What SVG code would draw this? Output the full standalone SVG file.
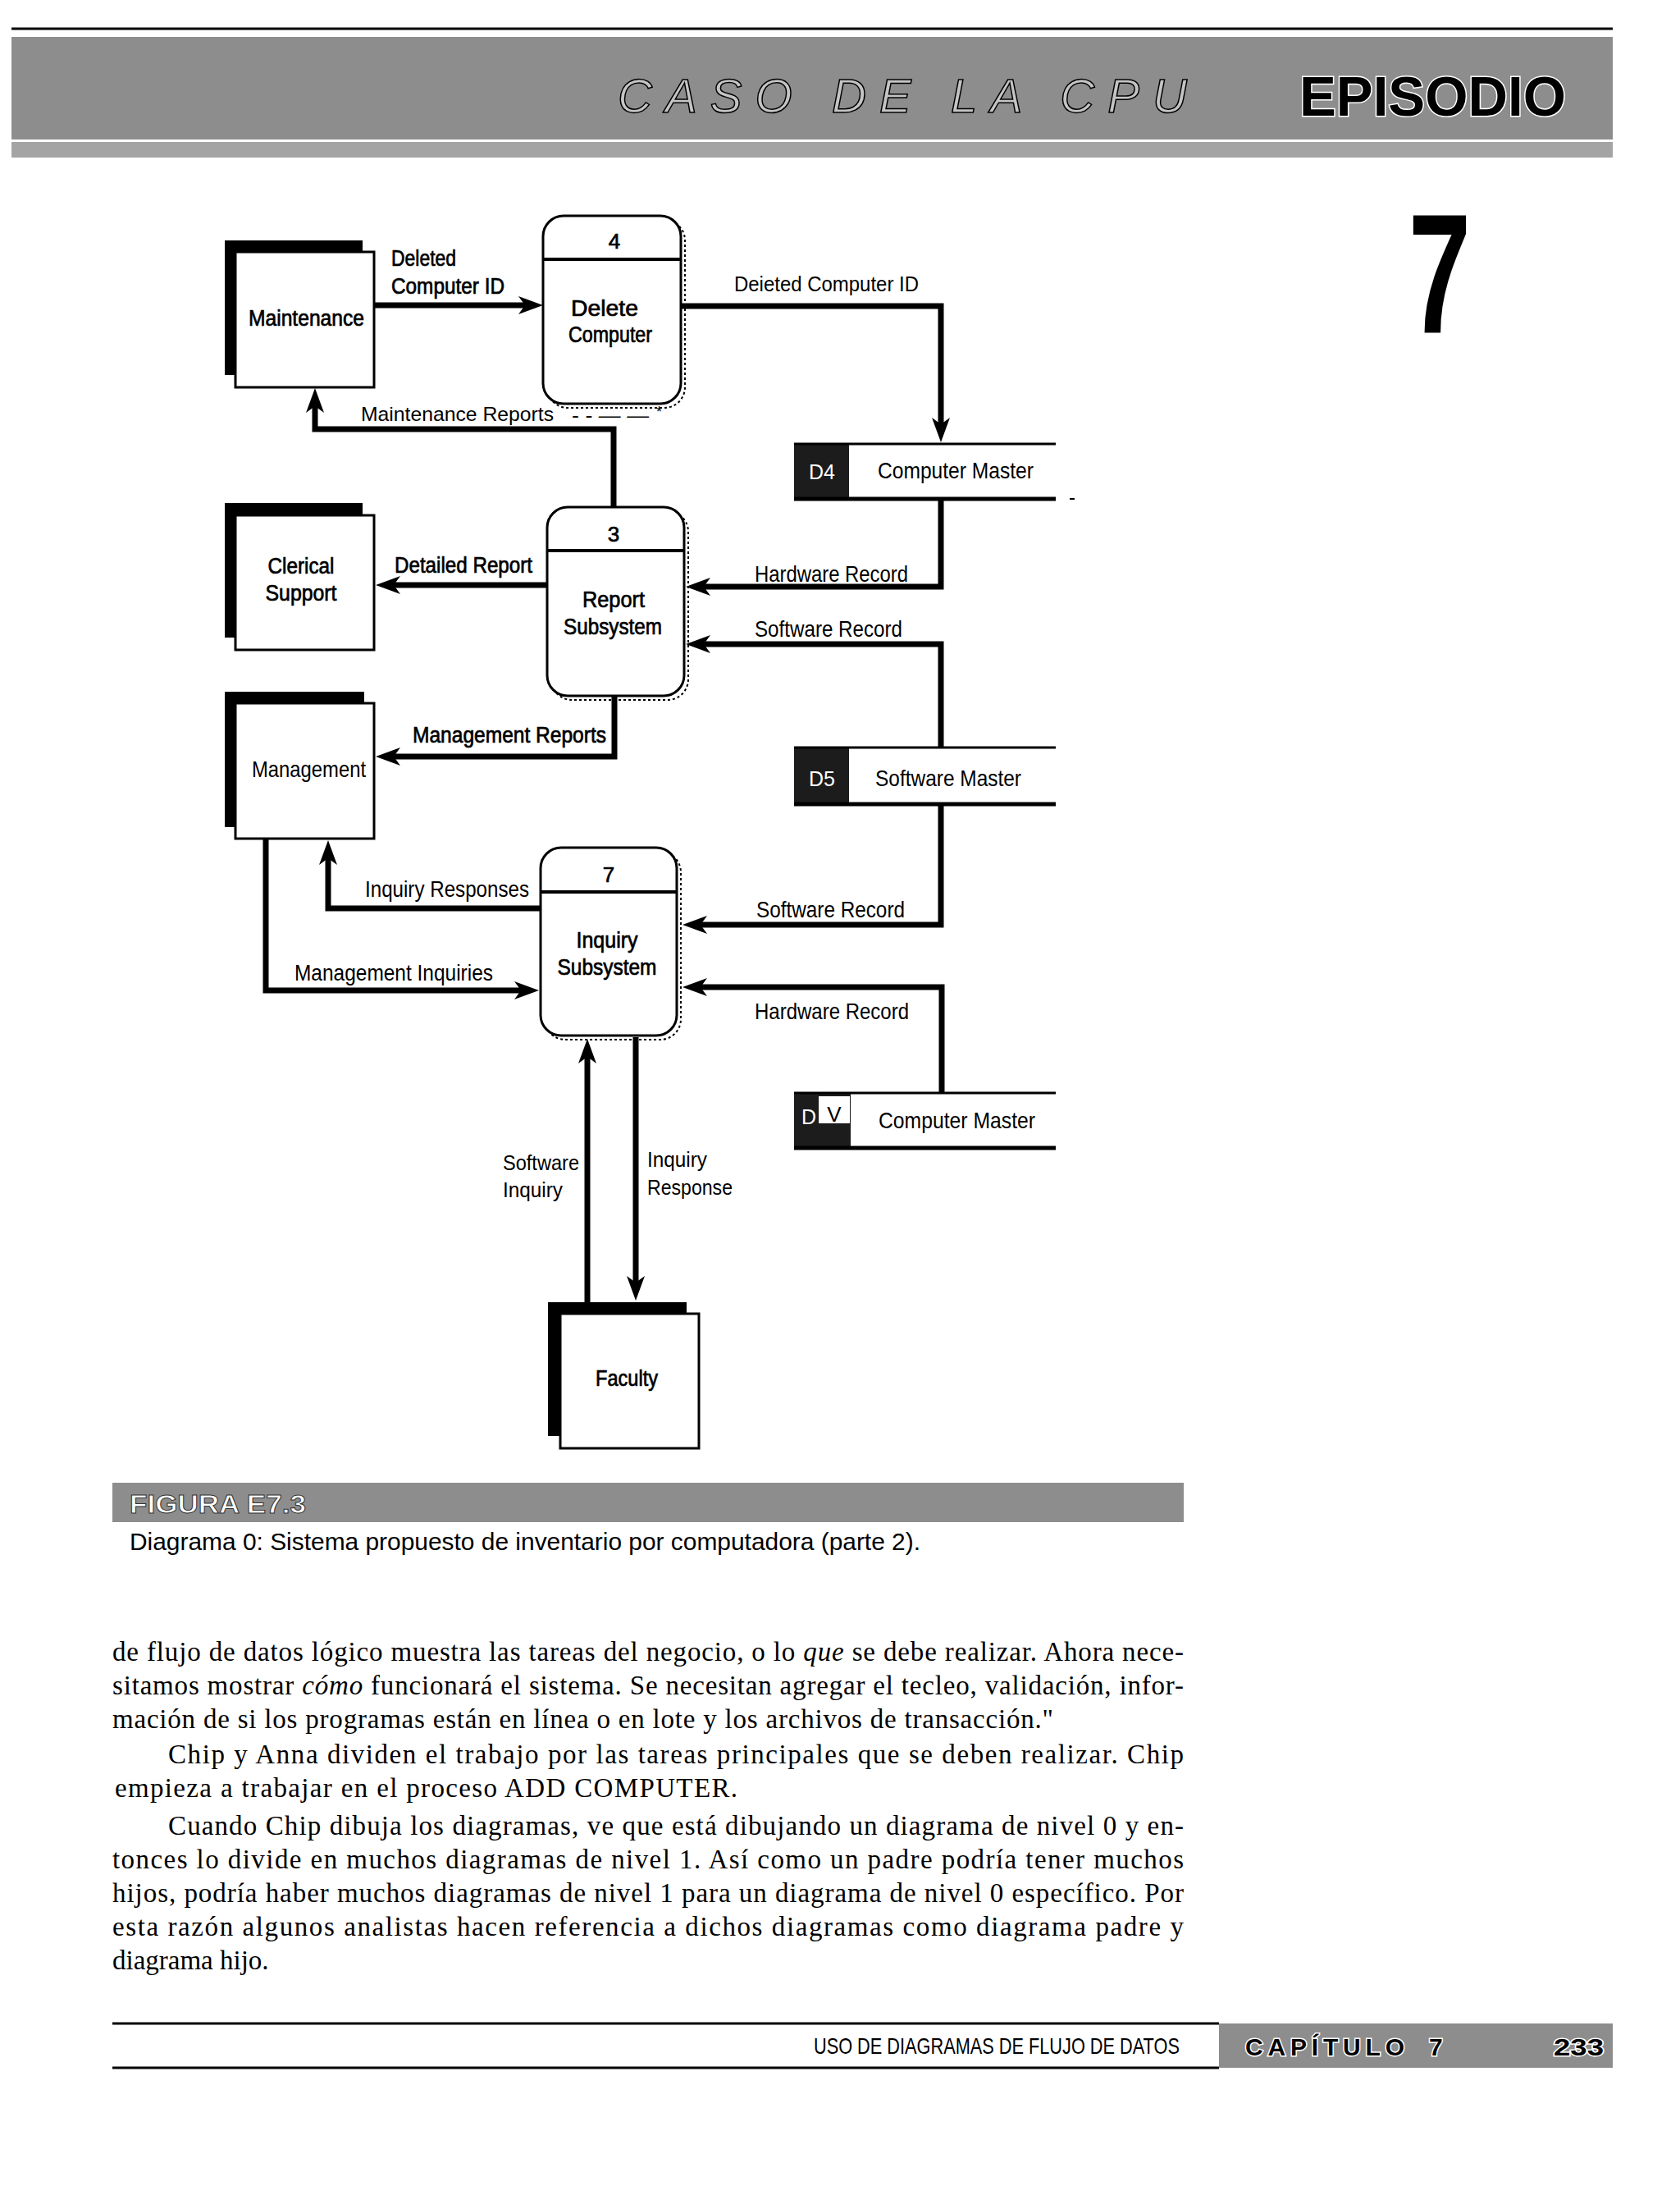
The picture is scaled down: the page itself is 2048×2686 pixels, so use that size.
<svg xmlns="http://www.w3.org/2000/svg" width="2048" height="2686" viewBox="0 0 2048 2686">
<style>
.lbl{font-family:"Liberation Sans",Arial,sans-serif;font-size:26px;fill:#000}
.hv{stroke:#000;stroke-width:0.7}
.c{text-anchor:middle}
.ent{fill:#fff;stroke:#000;stroke-width:3}
.sh{fill:#000}
.proc{fill:#fff;stroke:#000;stroke-width:3}
.procsh{fill:none;stroke:#000;stroke-width:2;stroke-dasharray:3 3}
.div{stroke:#000;stroke-width:4}
.flow{fill:none;stroke:#000;stroke-width:7;stroke-linejoin:miter;marker-end:url(#ah)}
.dsbox{fill:#1c1c1c}
.dsline{stroke:#000;stroke-width:3}
.dsline2{stroke:#000;stroke-width:5}
.body{font-family:"Liberation Serif","Times New Roman",serif;font-size:33px;fill:#000}
.band{fill:#8d8d8d}
.boldw{font-family:"Liberation Sans",Arial,sans-serif;font-weight:bold;fill:#000;stroke:#fff;stroke-width:3;paint-order:stroke}
</style>
<defs>
<marker id="ah" markerUnits="userSpaceOnUse" markerWidth="32" markerHeight="26" viewBox="0 -13 32 26" refX="18" refY="0" orient="auto">
<path d="M0,-11 L30,0 L0,11 L8,0 Z" fill="#000"/>
</marker>
</defs>
<rect width="2048" height="2686" fill="#fff"/>

<!-- header -->
<g id="header">
<line x1="14" y1="35" x2="1966" y2="35" stroke="#000" stroke-width="3"/>
<rect class="band" x="14" y="45" width="1952" height="125"/>
<rect x="14" y="173" width="1952" height="19" fill="#a4a4a4"/>
<text x="753" y="137" textLength="694" lengthAdjust="spacing" style="font-family:'Liberation Sans',Arial,sans-serif;font-style:italic;font-size:58px;fill:#c4c4c4;stroke:#000;stroke-width:1.5">CASO DE LA CPU</text>
<text class="boldw" x="1584" y="141" textLength="325" lengthAdjust="spacingAndGlyphs" style="font-size:68px">EPISODIO</text>
<text transform="translate(1755,406) scale(0.66,1)" text-anchor="middle" style="font-family:'Liberation Sans',Arial,sans-serif;font-weight:bold;font-size:207px">7</text>
</g>

<!-- connectors -->
<g id="connectors">
<path class="flow" d="M456,372 H650"/>
<path class="flow" d="M830,373 H1147 V527"/>
<path class="flow" d="M748,618 V523 H384 V485"/>
<path class="flow" d="M667,713 H470"/>
<path class="flow" d="M1147,608 V715 H848"/>
<path class="flow" d="M1147,911 V785 H848"/>
<path class="flow" d="M749,848 V922 H470"/>
<path class="flow" d="M1147,980 V1127 H844"/>
<path class="flow" d="M1148,1332 V1203 H844"/>
<path class="flow" d="M659,1107 H400 V1036"/>
<path class="flow" d="M324,1022 V1207 H645"/>
<path class="flow" d="M716,1587 V1278"/>
<path class="flow" d="M775,1264 V1573"/>
<!-- labels -->
<text class="lbl hv" x="477" y="324" textLength="79" lengthAdjust="spacingAndGlyphs" style="font-size:27px">Deleted</text>
<text class="lbl hv" x="477" y="358" textLength="138" lengthAdjust="spacingAndGlyphs" style="font-size:27px">Computer ID</text>
<text class="lbl" x="440" y="513" textLength="235" lengthAdjust="spacingAndGlyphs" style="font-size:24px">Maintenance  Reports</text>
<text class="lbl" x="697" y="514" textLength="94" lengthAdjust="spacingAndGlyphs" style="font-size:23px">- - — —</text>
<text class="lbl" x="800" y="508" style="font-size:18px">*</text>
<text class="lbl" x="895" y="355" textLength="225" lengthAdjust="spacingAndGlyphs" style="font-size:25px">Deieted Computer ID</text>
<text class="lbl hv" x="481" y="698" textLength="168" lengthAdjust="spacingAndGlyphs" style="font-size:27px">Detailed Report</text>
<text class="lbl hv" x="503" y="905" textLength="236" lengthAdjust="spacingAndGlyphs" style="font-size:27px">Management Reports</text>
<text class="lbl" x="920" y="709" textLength="187" lengthAdjust="spacingAndGlyphs" style="font-size:28px">Hardware  Record</text>
<text class="lbl" x="920" y="776" textLength="180" lengthAdjust="spacingAndGlyphs" style="font-size:28px">Software  Record</text>
<text class="lbl" x="922" y="1118" textLength="181" lengthAdjust="spacingAndGlyphs" style="font-size:28px">Software  Record</text>
<text class="lbl" x="920" y="1242" textLength="188" lengthAdjust="spacingAndGlyphs" style="font-size:28px">Hardware  Record</text>
<text class="lbl" x="445" y="1093" textLength="200" lengthAdjust="spacingAndGlyphs" style="font-size:28px">Inquiry  Responses</text>
<text class="lbl" x="359" y="1195" textLength="242" lengthAdjust="spacingAndGlyphs" style="font-size:28px">Management  Inquiries</text>
<text class="lbl" x="613" y="1426" textLength="93" lengthAdjust="spacingAndGlyphs" style="font-size:25px">Software</text>
<text class="lbl" x="613" y="1459" textLength="73" lengthAdjust="spacingAndGlyphs" style="font-size:25px">Inquiry</text>
<text class="lbl" x="789" y="1422" textLength="73" lengthAdjust="spacingAndGlyphs" style="font-size:25px">Inquiry</text>
<text class="lbl" x="789" y="1456" textLength="104" lengthAdjust="spacingAndGlyphs" style="font-size:25px">Response</text>
</g>

<!-- external entities -->
<g id="maintenance">
<rect class="sh" x="274" y="293" width="168" height="164"/>
<rect class="ent" x="287" y="307" width="169" height="165"/>
<text class="lbl hv" x="303" y="397" textLength="141" lengthAdjust="spacingAndGlyphs" style="font-size:27px">Maintenance</text>
</g>
<g id="clerical-support">
<rect class="sh" x="274" y="613" width="168" height="164"/>
<rect class="ent" x="287" y="628" width="169" height="164"/>
<text class="lbl c hv" x="367" y="699" textLength="81" lengthAdjust="spacingAndGlyphs" style="font-size:27px">Clerical</text>
<text class="lbl c hv" x="367" y="732" textLength="87" lengthAdjust="spacingAndGlyphs" style="font-size:27px">Support</text>
</g>
<g id="management">
<rect class="sh" x="274" y="843" width="170" height="165"/>
<rect class="ent" x="287" y="857" width="169" height="165"/>
<text class="lbl" x="307" y="947" textLength="139" lengthAdjust="spacingAndGlyphs" style="font-size:28px">Management</text>
</g>
<g id="faculty">
<rect class="sh" x="668" y="1587" width="169" height="163"/>
<rect class="ent" x="683" y="1601" width="169" height="164"/>
<text class="lbl c hv" x="764" y="1689" textLength="76" lengthAdjust="spacingAndGlyphs" style="font-size:27px">Faculty</text>
</g>

<!-- processes -->
<g id="process-4">
<rect class="procsh" x="667" y="268" width="168" height="229" rx="25"/>
<rect class="proc" x="662" y="263" width="168" height="229" rx="25"/>
<line class="div" x1="662" y1="316" x2="830" y2="316"/>
<text class="lbl c hv" x="749" y="303" style="font-size:26px">4</text>
<text class="lbl c hv" x="737" y="385" textLength="82" lengthAdjust="spacingAndGlyphs" style="font-size:27px">Delete</text>
<text class="lbl c hv" x="744" y="417" textLength="102" lengthAdjust="spacingAndGlyphs" style="font-size:27px">Computer</text>
</g>
<g id="process-3">
<rect class="procsh" x="672" y="623" width="167" height="230" rx="25"/>
<rect class="proc" x="667" y="618" width="167" height="230" rx="25"/>
<line class="div" x1="667" y1="671" x2="834" y2="671"/>
<text class="lbl c hv" x="748" y="660" style="font-size:26px">3</text>
<text class="lbl c hv" x="748" y="740" textLength="76" lengthAdjust="spacingAndGlyphs" style="font-size:27px">Report</text>
<text class="lbl c hv" x="747" y="773" textLength="120" lengthAdjust="spacingAndGlyphs" style="font-size:27px">Subsystem</text>
</g>
<g id="process-7">
<rect class="procsh" x="664" y="1038" width="166" height="229" rx="25"/>
<rect class="proc" x="659" y="1033" width="166" height="229" rx="25"/>
<line class="div" x1="659" y1="1087" x2="825" y2="1087"/>
<text class="lbl c hv" x="742" y="1075" style="font-size:26px">7</text>
<text class="lbl c hv" x="740" y="1155" textLength="75" lengthAdjust="spacingAndGlyphs" style="font-size:27px">Inquiry</text>
<text class="lbl c hv" x="740" y="1188" textLength="121" lengthAdjust="spacingAndGlyphs" style="font-size:27px">Subsystem</text>
</g>

<!-- data stores -->
<g id="d4-computer-master">
<rect class="dsbox" x="968" y="541" width="67" height="67"/>
<line class="dsline" x1="968" y1="541" x2="1287" y2="541"/>
<line class="dsline2" x1="968" y1="608" x2="1287" y2="608"/>
<line x1="1304" y1="608" x2="1310" y2="608" stroke="#000" stroke-width="2"/>
<text class="lbl c" x="1002" y="584" style="font-size:25px;fill:#fff">D4</text>
<text class="lbl" x="1070" y="583" textLength="190" lengthAdjust="spacingAndGlyphs" style="font-size:28px">Computer  Master</text>
</g>
<g id="d5-software-master">
<rect class="dsbox" x="968" y="911" width="67" height="69"/>
<line class="dsline" x1="968" y1="911" x2="1287" y2="911"/>
<line class="dsline2" x1="968" y1="980" x2="1287" y2="980"/>
<text class="lbl c" x="1002" y="958" style="font-size:25px;fill:#fff">D5</text>
<text class="lbl" x="1067" y="958" textLength="178" lengthAdjust="spacingAndGlyphs" style="font-size:28px">Software  Master</text>
</g>
<g id="dv-computer-master">
<rect class="dsbox" x="968" y="1332" width="69" height="66"/>
<rect x="998" y="1336" width="38" height="33" fill="#fff"/>
<line class="dsline" x1="968" y1="1332" x2="1287" y2="1332"/>
<line class="dsline2" x1="968" y1="1399" x2="1287" y2="1399"/>
<text class="lbl c" x="986" y="1370" style="font-size:25px;fill:#fff">D</text>
<text class="lbl c" x="1017" y="1367" style="font-size:26px">V</text>
<text class="lbl" x="1071" y="1375" textLength="191" lengthAdjust="spacingAndGlyphs" style="font-size:28px">Computer  Master</text>
</g>

<!-- caption -->
<g id="caption">
<rect class="band" x="137" y="1807" width="1306" height="48"/>
<text x="158" y="1844" textLength="215" lengthAdjust="spacingAndGlyphs" style="font-family:'Liberation Sans',Arial,sans-serif;font-weight:bold;font-size:32px;fill:#fff;stroke:#333;stroke-width:1">FIGURA E7.3</text>
<text class="lbl" x="158" y="1889" textLength="964" lengthAdjust="spacingAndGlyphs" style="font-size:30px">Diagrama 0: Sistema propuesto de inventario por computadora (parte 2).</text>
</g>

<!-- body text -->
<g id="body-text">
<text class="body" x="137" y="2024" textLength="1306" lengthAdjust="spacing">de flujo de datos lógico muestra las tareas del negocio, o lo <tspan font-style="italic">que</tspan> se debe realizar. Ahora nece-</text>
<text class="body" x="137" y="2065" textLength="1306" lengthAdjust="spacing">sitamos mostrar <tspan font-style="italic">cómo</tspan> funcionará el sistema. Se necesitan agregar el tecleo, validación, infor-</text>
<text class="body" x="137" y="2106" textLength="1147" lengthAdjust="spacing">mación de si los programas están en línea o en lote y los archivos de transacción."</text>
<text class="body" x="205" y="2149" textLength="1238" lengthAdjust="spacing">Chip y Anna dividen el trabajo por las tareas principales que se deben realizar. Chip</text>
<text class="body" x="140" y="2190" textLength="759" lengthAdjust="spacing">empieza a trabajar en el proceso ADD COMPUTER.</text>
<text class="body" x="205" y="2236" textLength="1238" lengthAdjust="spacing">Cuando Chip dibuja los diagramas, ve que está dibujando un diagrama de nivel 0 y en-</text>
<text class="body" x="137" y="2277" textLength="1306" lengthAdjust="spacing">tonces lo divide en muchos diagramas de nivel 1. Así como un padre podría tener muchos</text>
<text class="body" x="137" y="2318" textLength="1306" lengthAdjust="spacing">hijos, podría haber muchos diagramas de nivel 1 para un diagrama de nivel 0 específico. Por</text>
<text class="body" x="137" y="2359" textLength="1306" lengthAdjust="spacing">esta razón algunos analistas hacen referencia a dichos diagramas como diagrama padre y</text>
<text class="body" x="137" y="2400">diagrama hijo.</text>
</g>

<!-- footer -->
<g id="footer">
<line x1="137" y1="2466" x2="1486" y2="2466" stroke="#000" stroke-width="3"/>
<line x1="137" y1="2520" x2="1486" y2="2520" stroke="#000" stroke-width="3"/>
<rect class="band" x="1486" y="2466" width="480" height="54"/>
<text class="lbl" transform="translate(992,2503) scale(0.805,1)" x="0" y="0" style="font-size:27px">USO DE DIAGRAMAS DE FLUJO DE DATOS</text>
<text class="boldw" x="1518" y="2505" textLength="194" lengthAdjust="spacing" style="font-size:30px">CAPÍTULO</text>
<text class="boldw" x="1742" y="2505" style="font-size:30px">7</text>
<text class="boldw" x="1894" y="2505" textLength="61" lengthAdjust="spacingAndGlyphs" style="font-size:30px">233</text>
</g>
</svg>
